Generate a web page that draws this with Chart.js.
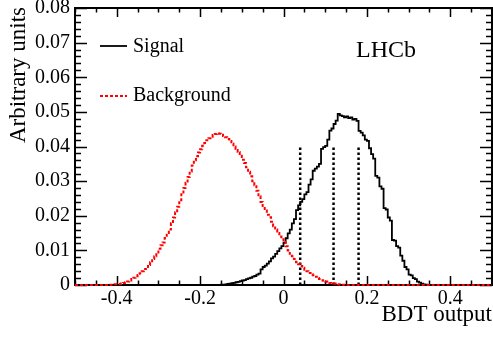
<!DOCTYPE html>
<html>
<head>
<meta charset="utf-8">
<script src="https://cdn.jsdelivr.net/npm/chart.js@4.4.1/dist/chart.umd.min.js"></script>
<style>
  html, body { margin: 0; padding: 0; background: #fff; }
  #wrap { width: 493px; height: 342px; }
</style>
</head>
<body>
<div id="wrap"><canvas id="chart" width="493" height="342"></canvas></div>
<script>
// histogram bins, 0.005 wide, values given from the first bin edge
var binWidth = 0.005;

var signalStart = -0.15;
var signalValues = [
  0.0001, 0.0001, 0.0002, 0.0003, 0.0004, 0.0005, 0.0006, 0.0008, 0.0009, 0.0011,
  0.0013, 0.0014, 0.0017, 0.0019, 0.0021, 0.0024, 0.0026, 0.0030, 0.0033, 0.0045,
  0.0052, 0.0056, 0.0062, 0.0068, 0.0077, 0.0082, 0.0090, 0.0098, 0.0106, 0.0112,
  0.0122, 0.0135, 0.0149, 0.0160, 0.0178, 0.0190, 0.0216, 0.0230, 0.0240, 0.0248,
  0.0262, 0.0268, 0.0290, 0.0305, 0.0330, 0.0336, 0.0342, 0.0350, 0.0393, 0.0398,
  0.0402, 0.0420, 0.0446, 0.0452, 0.0465, 0.0475, 0.0494, 0.0490, 0.0488, 0.0484,
  0.0487, 0.0482, 0.0484, 0.0478, 0.0480, 0.0474, 0.0445, 0.0440, 0.0432, 0.0420,
  0.0416, 0.0395, 0.0378, 0.0365, 0.0315, 0.0310, 0.0285, 0.0278, 0.0222, 0.0218,
  0.0195, 0.0186, 0.0130, 0.0128, 0.0112, 0.0108, 0.0085, 0.0070, 0.0052, 0.0045,
  0.0030, 0.0028, 0.0020, 0.0017, 0.0010, 0.0007, 0.0004, 0.0002, 0.0001, 0
];

var backgroundStart = -0.42;
var backgroundValues = [
  0, 0.0001, 0.0001, 0.0002, 0.0002, 0.0003, 0.0004, 0.0006, 0.0008, 0.0010,
  0.0013, 0.0017, 0.0021, 0.0025, 0.0029, 0.0034, 0.0040, 0.0046, 0.0052, 0.0058,
  0.0066, 0.0075, 0.0083, 0.0094, 0.0105, 0.0115, 0.0123, 0.0136, 0.0150, 0.0160,
  0.0178, 0.0195, 0.0210, 0.0226, 0.0245, 0.0262, 0.0280, 0.0295, 0.0312, 0.0328,
  0.0345, 0.0360, 0.0372, 0.0383, 0.0392, 0.0402, 0.0410, 0.0418, 0.0424, 0.0428,
  0.0433, 0.0436, 0.0438, 0.0437, 0.0434, 0.0430, 0.0427, 0.0422, 0.0416, 0.0408,
  0.0400, 0.0393, 0.0384, 0.0373, 0.0362, 0.0352, 0.0340, 0.0327, 0.0314, 0.0300,
  0.0288, 0.0272, 0.0256, 0.0240, 0.0228, 0.0215, 0.0203, 0.0196, 0.0183, 0.0170,
  0.0160, 0.0150, 0.0140, 0.0132, 0.0125, 0.0112, 0.0100, 0.0090, 0.0083, 0.0075,
  0.0066, 0.0060, 0.0055, 0.0050, 0.0044, 0.0040, 0.0035, 0.0031, 0.0028, 0.0024,
  0.0020, 0.0017, 0.0014, 0.0012, 0.0010, 0.0008, 0.0006, 0.0005, 0.0004, 0.0003,
  0.0002, 0.0001, 0.0001, 0
];

var cutPositions = [0.04, 0.12, 0.18];
var cutHeight = 0.04;

var xTickValues = [-0.4, -0.2, 0, 0.2, 0.4];
var yTickValues = [0, 0.01, 0.02, 0.03, 0.04, 0.05, 0.06, 0.07, 0.08];

var xMin = -0.5, xMax = 0.5;
var yMin = 0, yMax = 0.08;

var serif = '"Liberation Serif", "Times New Roman", serif';
Chart.defaults.font.family = serif;
Chart.defaults.color = '#000';

function histPoints(start, values) {
  var pts = [{ x: xMin, y: 0 }];
  values.forEach(function (v, i) {
    pts.push({ x: +(start + i * binWidth).toFixed(4), y: v });
  });
  pts.push({ x: +(start + values.length * binWidth).toFixed(4), y: 0 });
  pts.push({ x: xMax, y: 0 });
  return pts;
}

var datasets = [
  {
    label: 'Background',
    data: histPoints(backgroundStart, backgroundValues),
    borderColor: '#ff0000',
    borderWidth: 2,
    borderDash: [3, 2],
    stepped: 'before',
    pointRadius: 0,
    fill: false,
    clip: false,
    order: 0
  },
  {
    label: 'Signal',
    data: histPoints(signalStart, signalValues),
    borderColor: '#000',
    borderWidth: 1.8,
    stepped: 'before',
    pointRadius: 0,
    fill: false,
    clip: false,
    order: 1
  }
];

cutPositions.forEach(function (c) {
  datasets.push({
    label: 'cut',
    data: [{ x: c, y: 0 }, { x: c, y: cutHeight }],
    borderColor: '#000',
    borderWidth: 2.5,
    borderDash: [2.5, 2.5],
    pointRadius: 0,
    fill: false,
    order: 2
  });
});

// frame with inward major/minor ticks on all four sides
var frame = {
  id: 'frame',
  beforeDatasetsDraw: function (chart) {
    var ctx = chart.ctx, a = chart.chartArea;
    var xs = chart.scales.x, ys = chart.scales.y;
    ctx.save();
    ctx.strokeStyle = '#000';
    ctx.lineWidth = 1.5;
    ctx.beginPath();
    for (var i = -10; i <= 10; i++) {
      var px = Math.round(xs.getPixelForValue(i * 0.05)) + 0.5;
      var len = (i % 4 === 0) ? 9 : 4.5;
      ctx.moveTo(px, a.bottom); ctx.lineTo(px, a.bottom - len);
      ctx.moveTo(px, a.top); ctx.lineTo(px, a.top + len);
    }
    for (var j = 0; j <= 40; j++) {
      var py = Math.round(ys.getPixelForValue(j * 0.002)) + 0.5;
      var ylen = (j % 5 === 0) ? 12 : 6;
      ctx.moveTo(a.left, py); ctx.lineTo(a.left + ylen, py);
      ctx.moveTo(a.right, py); ctx.lineTo(a.right - ylen, py);
    }
    ctx.stroke();
    ctx.lineWidth = 2;
    ctx.strokeRect(a.left, a.top, a.right - a.left, a.bottom - a.top);
    ctx.restore();
  },
  afterDraw: function (chart) {
    var ctx = chart.ctx;
    ctx.save();
    ctx.fillStyle = '#000';
    ctx.textBaseline = 'alphabetic';

    // legend
    ctx.font = '20px ' + serif;
    ctx.textAlign = 'left';
    ctx.fillText('Signal', 133, 52);
    ctx.fillText('Background', 133, 101);
    ctx.strokeStyle = '#000';
    ctx.lineWidth = 1.8;
    ctx.beginPath(); ctx.moveTo(100, 46); ctx.lineTo(127, 46); ctx.stroke();
    ctx.strokeStyle = '#ff0000';
    ctx.lineWidth = 2;
    ctx.setLineDash([3, 2]);
    ctx.beginPath(); ctx.moveTo(100, 96); ctx.lineTo(127, 96); ctx.stroke();
    ctx.setLineDash([]);

    // experiment label
    ctx.font = '24px ' + serif;
    ctx.fillText('LHCb', 356, 57);

    // axis titles
    ctx.font = '23px ' + serif;
    ctx.textAlign = 'right';
    ctx.fillText('BDT output', 492, 321);
    ctx.translate(25, 7);
    ctx.rotate(-Math.PI / 2);
    ctx.fillText('Arbitrary units', 0, 0);
    ctx.restore();
  }
};

function setTicks(values) {
  return function (s) { s.ticks = values.map(function (v) { return { value: v }; }); };
}

new Chart(document.getElementById('chart'), {
  type: 'line',
  data: { datasets: datasets },
  options: {
    responsive: false,
    animation: false,
    events: [],
    layout: { padding: { left: 0, top: 8, right: 1, bottom: 0 } },
    plugins: { legend: { display: false }, tooltip: { enabled: false } },
    scales: {
      x: {
        type: 'linear',
        min: xMin,
        max: xMax,
        grid: { display: false, drawTicks: false },
        border: { display: false },
        afterBuildTicks: setTicks(xTickValues),
        ticks: {
          padding: 2,
          color: '#000',
          maxRotation: 0,
          autoSkip: false,
          font: { family: serif, size: 20 },
          callback: function (v) { return v === 0 ? '0' : String(v); }
        },
        afterFit: function (s) { s.height = 57; s.paddingLeft = 0; s.paddingRight = 0; }
      },
      y: {
        type: 'linear',
        min: yMin,
        max: yMax,
        grid: { display: false, drawTicks: false },
        border: { display: false },
        afterBuildTicks: setTicks(yTickValues),
        ticks: {
          padding: 5,
          color: '#000',
          autoSkip: false,
          font: { family: serif, size: 20 },
          callback: function (v) { return v === 0 ? '0' : v.toFixed(2); }
        },
        afterFit: function (s) { s.width = 75; s.paddingTop = 0; s.paddingBottom = 0; }
      }
    }
  },
  plugins: [frame]
});
</script>
</body>
</html>
